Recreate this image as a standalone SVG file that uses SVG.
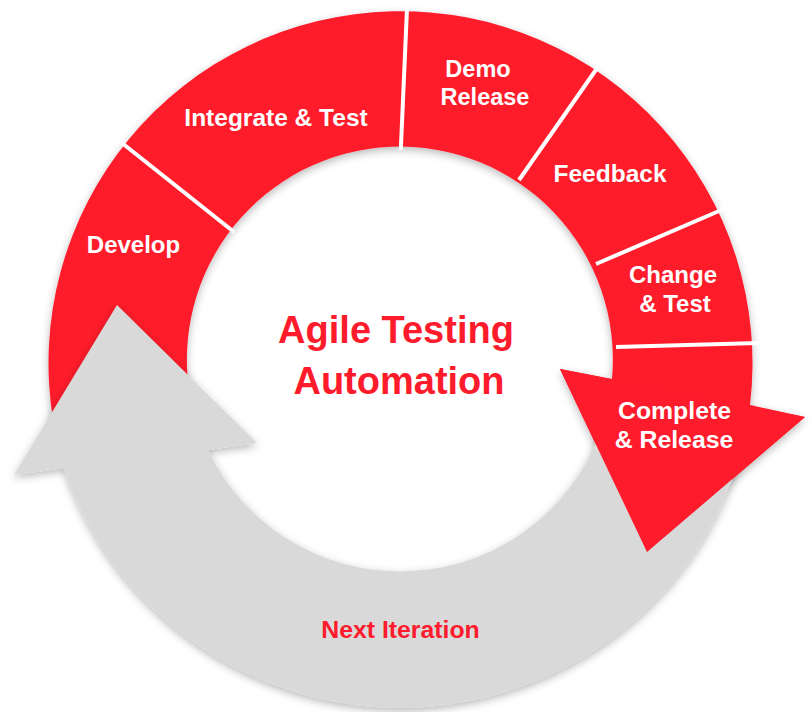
<svg xmlns="http://www.w3.org/2000/svg" width="812" height="712" viewBox="0 0 812 712">
  <defs>
    <filter id="shadow" x="-10%" y="-10%" width="120%" height="120%">
      <feDropShadow dx="0" dy="3" stdDeviation="4" flood-color="#000" flood-opacity="0.28"/>
    </filter>
    <style>
      .red { fill: #FE1B2C; }
      .grey { fill: #D9D9D9; }
      .divider { stroke: #FFFFFF; stroke-width: 4; fill: none; }
      .lbl { font-family: "Liberation Sans", Arial, Helvetica, sans-serif; font-weight: bold; fill: #FFFFFF; text-anchor: middle; }
      .title { font-family: "Liberation Sans", Arial, Helvetica, sans-serif; font-weight: bold; fill: #FE1B2C; text-anchor: middle; }
    </style>
  </defs>
  <rect width="812" height="712" fill="#FFFFFF"/>

  <!-- red cycle ring with arrowhead -->
  <g id="cycle">
    <path class="red" filter="url(#shadow)" d="M53.3,421.1 A352,352 0 1 1 750,405 L805,417 L647,552 L560,369 L612,379 A213,213 0 1 0 190.2,397 Z"/>
  </g>

  <!-- grey return arrow -->
  <g id="next-iteration">
    <path class="grey" filter="url(#shadow)" d="M748.6,420.6 A354,349 0 0 1 64,468 L14,475 L117,305 L257,443 L208,450 A213,213 0 0 0 609.8,397 Z"/>
    <text class="title" x="400.5" y="638" font-size="24.8">Next Iteration</text>
  </g>

  <!-- red arrowhead on top of grey -->
  <g id="complete-release">
    <path class="red" d="M560,369 L805,417 L647,552 Z"/>
    <text class="lbl" x="674.5" y="419" font-size="24.8">Complete</text>
    <text class="lbl" x="674" y="448" font-size="24.8">&amp; Release</text>
  </g>

  <g id="connectors">
    <line class="divider" x1="122" y1="143" x2="234" y2="232"/>
    <line class="divider" x1="407.2" y1="4" x2="400.8" y2="150"/>
    <line class="divider" x1="600" y1="64" x2="519" y2="180"/>
    <line class="divider" x1="726" y1="208" x2="596" y2="264"/>
    <line class="divider" x1="758" y1="343" x2="616" y2="347"/>
  </g>

  <g id="develop">
    <text class="lbl" x="133.5" y="253" font-size="24">Develop</text>
  </g>
  <g id="integrate-test">
    <text class="lbl" x="276" y="126" font-size="24.5">Integrate &amp; Test</text>
  </g>
  <g id="demo-release">
    <text class="lbl" x="478" y="77" font-size="23.5">Demo</text>
    <text class="lbl" x="485" y="105" font-size="23.5">Release</text>
  </g>
  <g id="feedback">
    <text class="lbl" x="610" y="182" font-size="24.5">Feedback</text>
  </g>
  <g id="change-test">
    <text class="lbl" x="673" y="283" font-size="24">Change</text>
    <text class="lbl" x="675" y="312" font-size="24">&amp; Test</text>
  </g>
  <g id="center-title">
    <text class="title" x="396" y="343" font-size="38">Agile Testing</text>
    <text class="title" x="399" y="394" font-size="38">Automation</text>
  </g>
</svg>
